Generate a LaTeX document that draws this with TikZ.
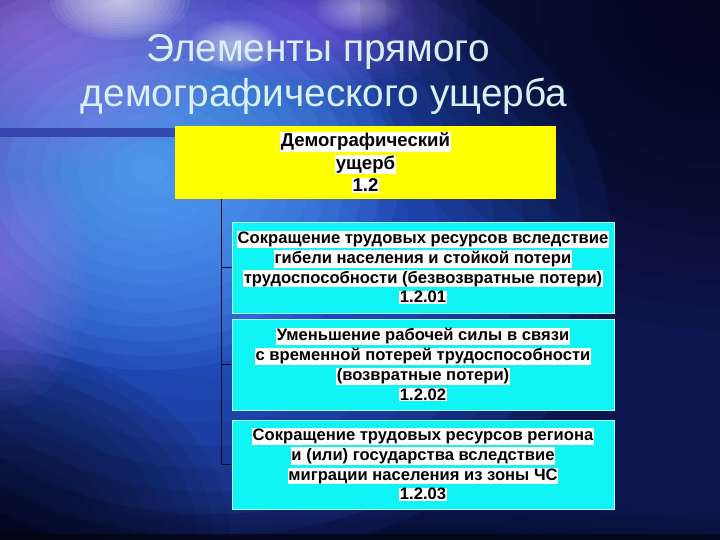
\documentclass[tikz,border=0pt]{standalone}
\usepackage{fontspec}
\setmainfont{Liberation Sans}
\definecolor{bgbase}{HTML}{0E1650}
\definecolor{glowblue}{HTML}{2C64E8}
\definecolor{glowlight}{HTML}{64B4FF}
\definecolor{glowpurple}{HTML}{B07AF0}
\definecolor{glowviolet}{HTML}{9A66FF}
\definecolor{nightdark}{HTML}{03040F}
\definecolor{bandblue}{HTML}{2E3EA6}
\definecolor{titlecol}{HTML}{D8F0F8}
\definecolor{boxyellow}{HTML}{FFFF00}
\definecolor{boxcyan}{HTML}{10F4F6}
\definecolor{boxedge}{HTML}{A8FFFF}
\definecolor{linecol}{HTML}{0A0A20}
\newcommand{\hlw}[1]{{\setlength{\fboxsep}{0.8pt}\colorbox{white}{#1}}}
% soft glow: colour, opacity per ring, centre x, centre y, radius x, radius y
\newcommand{\softglow}[6]{%
  \foreach \k in {1,...,14}{%
    \fill[#1, opacity=#2] (#3,#4) ellipse ({#5*\k/14} and {#6*\k/14});
  }}
\tikzset{
  titletext/.style={font=\fontsize{38.8}{45}\selectfont, text=titlecol, anchor=base, inner sep=0pt},
  yellowbox/.style={fill=boxyellow, minimum width=381pt, minimum height=73pt, inner sep=0pt, align=center, font=\bfseries\fontsize{18.6}{22.5}\selectfont},
  cyanbox/.style={fill=boxcyan, draw=boxedge, line width=0.8pt, minimum width=382pt, minimum height=#1, inner sep=0pt, align=center, font=\bfseries\fontsize{16.6}{19.8}\selectfont},
  conn/.style={draw=linecol, line width=1.1pt}
}
\begin{document}
\begin{tikzpicture}[x=1pt,y=-1pt]
\useasboundingbox (0,0) rectangle (720,540);
% background
\fill[bgbase] (0,0) rectangle (720,540);
\begin{scope}
\clip (0,0) rectangle (720,540);
\softglow{glowblue}{0.12}{210}{240}{400}{320}
\softglow{glowlight}{0.09}{150}{170}{250}{200}
\softglow{glowpurple}{0.07}{30}{30}{200}{140}
\softglow{glowviolet}{0.06}{310}{20}{170}{70}
\softglow{glowpurple}{0.05}{0}{270}{90}{140}
\softglow{white}{0.07}{120}{0}{70}{40}
\softglow{white}{0.05}{235}{45}{45}{26}
\softglow{white}{0.04}{360}{8}{45}{25}
\softglow{nightdark}{0.08}{720}{0}{360}{330}
\softglow{nightdark}{0.07}{0}{540}{230}{190}
\softglow{nightdark}{0.05}{420}{560}{520}{60}
\fill[nightdark, opacity=0.7] (0,534) rectangle (720,540);
\end{scope}
\fill[bandblue, opacity=0.85] (0,128) rectangle (175,137);
% title
\node[titletext] (t1) at (318,62) {Элементы прямого};
\node[titletext] (t2) at (324,107) {демографического ущерба};
% boxes
\node[yellowbox] (Y) at (365.5,162.5) {\hlw{Демографический}\\\hlw{ущерб}\\\hlw{1.2}};
\node[cyanbox=91pt] (b1) at (423,267.5) {\hlw{Сокращение трудовых ресурсов вследствие}\\\hlw{гибели населения и стойкой потери}\\\hlw{трудоспособности (безвозвратные потери)}\\\hlw{1.2.01}};
\node[cyanbox=91pt] (b2) at (423,364.5) {\hlw{Уменьшение рабочей силы в связи}\\\hlw{с временной потерей трудоспособности}\\\hlw{(возвратные потери)}\\\hlw{1.2.02}};
\node[cyanbox=89pt] (b3) at (423,464.5) {\hlw{Сокращение трудовых ресурсов региона}\\\hlw{и (или) государства вследствие}\\\hlw{миграции населения из зоны ЧС}\\\hlw{1.2.03}};
% connectors
\coordinate (trunk) at ([xshift=47pt]Y.south west);
\draw[conn] (trunk) |- (b3.west);
\draw[conn] (b1.west) -- (b1.west -| trunk);
\draw[conn] (b2.west) -- (b2.west -| trunk);
\end{tikzpicture}
\end{document}
